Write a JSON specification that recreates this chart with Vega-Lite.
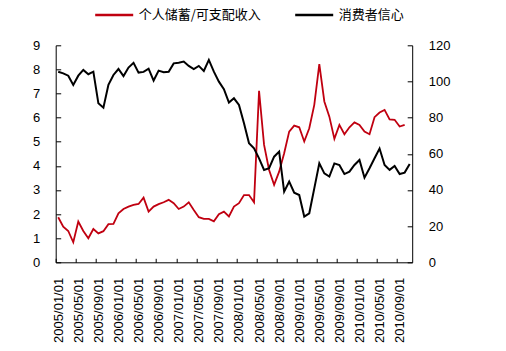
{
  "$schema": "https://vega.github.io/schema/vega-lite/v6.json",
  "width": 356.5,
  "height": 217,
  "autosize": "none",
  "padding": {"left": 55.7, "top": 45.3, "right": 93.8, "bottom": 88.7},
  "background": "white",
  "config": {
    "view": {"stroke": null},
    "font": "Liberation Sans",
    "axis": {
      "grid": false,
      "domainColor": "#000000",
      "domainWidth": 1,
      "tickColor": "#000000",
      "tickWidth": 1,
      "labelColor": "#000000",
      "labelFont": "Liberation Sans",
      "labelFontSize": 13,
      "title": null
    }
  },
  "data": {
    "values": [
      {"date": "2005/01/01", "s": 1.87, "c": 105.4},
      {"date": "2005/02/01", "s": 1.48, "c": 104.5},
      {"date": "2005/03/01", "s": 1.30, "c": 103.2},
      {"date": "2005/04/01", "s": 0.83, "c": 98.1},
      {"date": "2005/05/01", "s": 1.69, "c": 103.2},
      {"date": "2005/06/01", "s": 1.30, "c": 106.4},
      {"date": "2005/07/01", "s": 1.00, "c": 104.0},
      {"date": "2005/08/01", "s": 1.38, "c": 105.4},
      {"date": "2005/09/01", "s": 1.20, "c": 87.9},
      {"date": "2005/10/01", "s": 1.29, "c": 85.5},
      {"date": "2005/11/01", "s": 1.58, "c": 98.1},
      {"date": "2005/12/01", "s": 1.59, "c": 103.6},
      {"date": "2006/01/01", "s": 2.03, "c": 106.9},
      {"date": "2006/02/01", "s": 2.21, "c": 103.0},
      {"date": "2006/03/01", "s": 2.31, "c": 107.7},
      {"date": "2006/04/01", "s": 2.38, "c": 110.3},
      {"date": "2006/05/01", "s": 2.42, "c": 104.9},
      {"date": "2006/06/01", "s": 2.68, "c": 105.3},
      {"date": "2006/07/01", "s": 2.10, "c": 107.1},
      {"date": "2006/08/01", "s": 2.31, "c": 100.5},
      {"date": "2006/09/01", "s": 2.41, "c": 106.0},
      {"date": "2006/10/01", "s": 2.49, "c": 105.1},
      {"date": "2006/11/01", "s": 2.59, "c": 105.4},
      {"date": "2006/12/01", "s": 2.45, "c": 110.0},
      {"date": "2007/01/01", "s": 2.21, "c": 110.4},
      {"date": "2007/02/01", "s": 2.31, "c": 111.0},
      {"date": "2007/03/01", "s": 2.49, "c": 108.6},
      {"date": "2007/04/01", "s": 2.17, "c": 106.8},
      {"date": "2007/05/01", "s": 1.87, "c": 108.6},
      {"date": "2007/06/01", "s": 1.80, "c": 105.8},
      {"date": "2007/07/01", "s": 1.80, "c": 111.9},
      {"date": "2007/08/01", "s": 1.70, "c": 105.4},
      {"date": "2007/09/01", "s": 1.99, "c": 99.9},
      {"date": "2007/10/01", "s": 2.10, "c": 95.7},
      {"date": "2007/11/01", "s": 1.90, "c": 88.3},
      {"date": "2007/12/01", "s": 2.31, "c": 90.7},
      {"date": "2008/01/01", "s": 2.45, "c": 87.0},
      {"date": "2008/02/01", "s": 2.79, "c": 76.9},
      {"date": "2008/03/01", "s": 2.79, "c": 65.8},
      {"date": "2008/04/01", "s": 2.49, "c": 63.0},
      {"date": "2008/05/01", "s": 7.11, "c": 57.5},
      {"date": "2008/06/01", "s": 4.87, "c": 51.1},
      {"date": "2008/07/01", "s": 3.83, "c": 52.0},
      {"date": "2008/08/01", "s": 3.21, "c": 58.4},
      {"date": "2008/09/01", "s": 3.76, "c": 61.2},
      {"date": "2008/10/01", "s": 4.52, "c": 39.1},
      {"date": "2008/11/01", "s": 5.42, "c": 44.6},
      {"date": "2008/12/01", "s": 5.67, "c": 38.5},
      {"date": "2009/01/01", "s": 5.60, "c": 37.2},
      {"date": "2009/02/01", "s": 5.01, "c": 25.3},
      {"date": "2009/03/01", "s": 5.56, "c": 27.1},
      {"date": "2009/04/01", "s": 6.53, "c": 40.9},
      {"date": "2009/05/01", "s": 8.22, "c": 54.7},
      {"date": "2009/06/01", "s": 6.67, "c": 49.2},
      {"date": "2009/07/01", "s": 6.04, "c": 47.4},
      {"date": "2009/08/01", "s": 5.12, "c": 54.7},
      {"date": "2009/09/01", "s": 5.70, "c": 53.8},
      {"date": "2009/10/01", "s": 5.31, "c": 48.8},
      {"date": "2009/11/01", "s": 5.60, "c": 50.1},
      {"date": "2009/12/01", "s": 5.80, "c": 53.8},
      {"date": "2010/01/01", "s": 5.70, "c": 56.6},
      {"date": "2010/02/01", "s": 5.42, "c": 46.8},
      {"date": "2010/03/01", "s": 5.31, "c": 52.0},
      {"date": "2010/04/01", "s": 6.02, "c": 57.5},
      {"date": "2010/05/01", "s": 6.21, "c": 62.9},
      {"date": "2010/06/01", "s": 6.32, "c": 53.8},
      {"date": "2010/07/01", "s": 5.93, "c": 51.1},
      {"date": "2010/08/01", "s": 5.91, "c": 53.3},
      {"date": "2010/09/01", "s": 5.63, "c": 48.8},
      {"date": "2010/10/01", "s": 5.70, "c": 49.6},
      {"date": "2010/11/01", "s": null, "c": 54.4}
    ]
  },
  "encoding": {
    "x": {
      "field": "date",
      "type": "ordinal",
      "sort": null,
      "scale": {"type": "point", "padding": 0.5},
      "axis": {
        "values": ["2005/01/01", "2005/05/01", "2005/09/01", "2006/01/01", "2006/05/01", "2006/09/01", "2007/01/01", "2007/05/01", "2007/09/01", "2008/01/01", "2008/05/01", "2008/09/01", "2009/01/01", "2009/05/01", "2009/09/01", "2010/01/01", "2010/05/01", "2010/09/01"],
        "labelAngle": 270,
        "labelAlign": "right",
        "labelBaseline": "middle",
        "tickSize": -4,
        "tickOffset": -2.51,
        "labelOffset": 2.51,
        "labelPadding": 19,
        "labelOverlap": false
      }
    }
  },
  "layer": [
    {
      "mark": {"type": "line", "strokeWidth": 1.8},
      "encoding": {
        "y": {
          "field": "s",
          "type": "quantitative",
          "scale": {"domain": [0, 9], "nice": false},
          "axis": {"orient": "left", "values": [0, 1, 2, 3, 4, 5, 6, 7, 8, 9], "tickSize": -5, "labelPadding": 21}
        },
        "color": {
          "datum": "个人储蓄/可支配收入",
          "scale": {"domain": ["个人储蓄/可支配收入", "消费者信心"], "range": ["#C00010", "#000000"]},
          "legend": {
            "orient": "none",
            "legendX": 38,
            "legendY": -51,
            "direction": "horizontal",
            "title": null,
            "symbolType": "stroke",
            "symbolSize": 1444,
            "symbolStrokeWidth": 2.5,
            "labelFont": "Noto Sans CJK SC",
            "labelFontSize": 13,
            "labelColor": "#000000",
            "labelOffset": 4,
            "columnPadding": 28
          }
        }
      }
    },
    {
      "mark": {"type": "line", "strokeWidth": 2},
      "encoding": {
        "y": {
          "field": "c",
          "type": "quantitative",
          "scale": {"domain": [0, 120], "nice": false},
          "axis": {"orient": "right", "values": [0, 20, 40, 60, 80, 100, 120], "tickSize": -5, "labelPadding": 21}
        },
        "color": {"datum": "消费者信心"}
      }
    }
  ],
  "resolve": {"scale": {"y": "independent"}}
}
